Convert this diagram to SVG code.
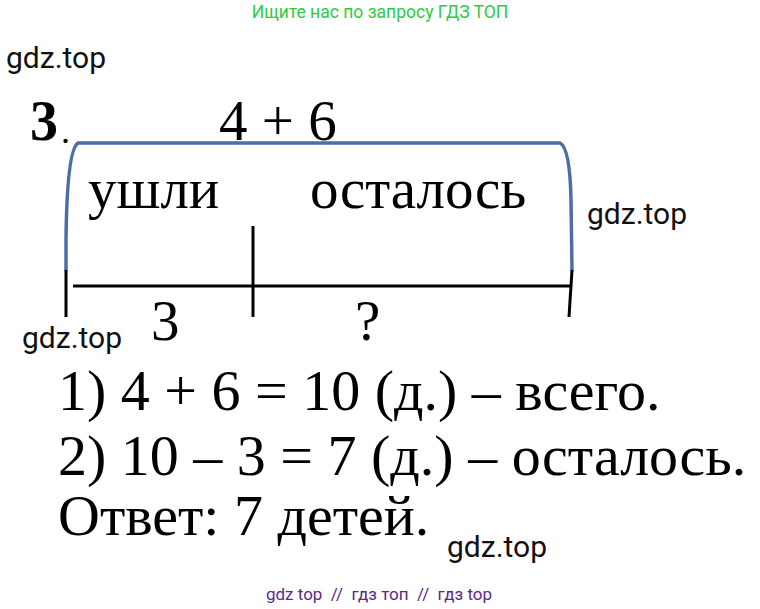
<svg xmlns="http://www.w3.org/2000/svg" width="760" height="609" viewBox="0 0 760 609">
<style>
.t{font-family:"Liberation Serif","Times New Roman",serif;fill:#000}
.wm{font-family:Roboto,"Liberation Sans",sans-serif;font-size:30px;fill:#111}
.blue{fill:none;stroke:#4a6ea6;stroke-width:3.5;stroke-linecap:round}
.blk{fill:none;stroke:#000;stroke-width:3}
</style>
<rect width="760" height="609" fill="#fff"/>
<text x="380" y="18" text-anchor="middle" font-family="Roboto,'Liberation Sans',sans-serif" font-size="17.5" fill="#2ecc40">Ищите нас по запросу ГДЗ ТОП</text>
<text class="wm" x="6" y="68">gdz.top</text>
<text class="wm" x="587" y="224">gdz.top</text>
<text class="wm" x="22" y="348">gdz.top</text>
<text class="wm" x="447" y="557">gdz.top</text>

<g id="title">
<text class="t" x="30" y="140" font-size="56" font-weight="bold">3</text>
<text class="t" x="61" y="143" font-size="36">.</text>
<text class="t" x="219" y="140" font-size="57">4 + 6</text>
</g>

<g id="connectors">
<path class="blue" d="M66,270 L66,240 Q67,150 78,143 L560,143 Q570,148 571,200 L572,270"/>
<line class="blk" x1="73" y1="286" x2="570" y2="286"/>
<line class="blk" x1="66" y1="270" x2="66" y2="317" stroke-width="3.5"/>
<line class="blk" x1="253" y1="226" x2="253" y2="317" stroke-width="3.5"/>
<line class="blk" x1="572" y1="270" x2="569" y2="317" stroke-width="3.5"/>
</g>

<g id="labels">
<text class="t" x="88" y="208" font-size="57">ушли</text>
<text class="t" x="310" y="208" font-size="57">осталось</text>
<text class="t" x="151" y="340" font-size="57">3</text>
<text class="t" x="355" y="340" font-size="57">?</text>
</g>

<g id="solution">
<text class="t" x="58" y="410" font-size="58">1) 4 + 6 = 10 (д.) – всего.</text>
<text class="t" x="58" y="475" font-size="58">2) 10 – 3 = 7 (д.) – осталось.</text>
<text class="t" x="58" y="535" font-size="58">Ответ: 7 детей.</text>
</g>

<text x="379" y="600" text-anchor="middle" font-family="Roboto,'Liberation Sans',sans-serif" font-size="17" fill="#5b2a86" style="white-space:pre">gdz top  //  гдз топ  //  гдз top</text>
</svg>
